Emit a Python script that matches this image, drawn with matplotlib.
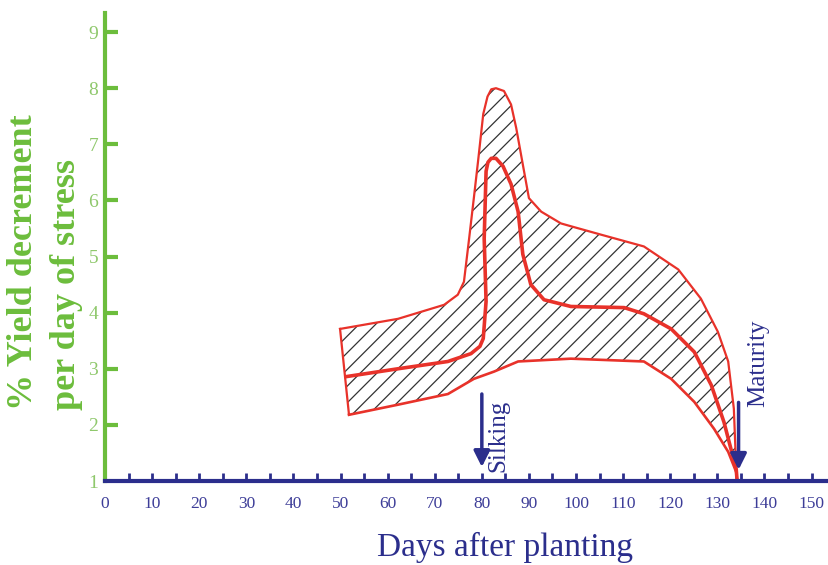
import matplotlib
matplotlib.use("Agg")
import matplotlib.pyplot as plt
import numpy as np

plt.rcParams['font.family'] = ['Liberation Serif', 'DejaVu Serif']
plt.rcParams['hatch.linewidth'] = 0.9
plt.rcParams['hatch.color'] = '#333333'

# upper edge of the hatched band (days, % yield decrement)
upper_days = [49.9, 62.2, 72.0, 74.9, 76.2, 77.3, 78.3, 79.2, 80.3, 81.2, 82.0, 83.0, 84.7,
              86.2, 87.3, 88.7, 90.0, 92.6, 96.8, 98.9, 105.3, 114.4, 121.7, 126.5,
              130.1, 132.3, 133.5, 134.0, 134.2]
upper_vals = [3.71, 3.89, 4.14, 4.32, 4.55, 5.32, 6.04, 6.70, 7.54, 7.85, 7.98, 8.0, 7.95,
              7.71, 7.29, 6.64, 6.04, 5.80, 5.59, 5.54, 5.39, 5.18, 4.77, 4.25,
              3.66, 3.13, 2.29, 1.21, 1.0]

# lower edge of the band
lower_days = [51.8, 62.2, 72.8, 78.3, 82.6, 87.7, 98.9, 114.4, 120.2, 125.1, 129.3,
              132.3, 134.0, 134.2]
lower_vals = [2.18, 2.36, 2.55, 2.82, 2.95, 3.13, 3.18, 3.13, 2.82, 2.41, 1.93,
              1.52, 1.16, 1.0]

# middle (thick) curve
mid_days = [51.2, 62.2, 72.8, 77.7, 79.6, 80.3, 80.9, 80.5, 80.9, 81.3, 82.0, 83.0, 84.5, 86.2,
            87.7, 88.7, 90.4, 93.2, 98.9, 110.2, 114.4, 120.2, 125.1, 128.7, 131.4,
            134.0, 134.2]
mid_vals = [2.86, 3.0, 3.13, 3.27, 3.40, 3.54, 4.2, 5.32, 6.52, 6.68, 6.75, 6.75, 6.61, 6.29,
            5.80, 5.04, 4.5, 4.23, 4.11, 4.09, 3.98, 3.71, 3.30, 2.71, 2.05,
            1.21, 1.0]

xticks_major = list(range(0, 151, 10))
xticks_minor = list(range(5, 150, 10))
yticks = list(range(1, 10))

red = '#e8322a'
navy = '#2b2e8c'
green = '#6cbd3c'
light_green = '#8fc86c'

fig = plt.figure(figsize=(8.29, 5.65), dpi=100)
ax = fig.add_axes([105 / 829, 84 / 565, 724 / 829, 468 / 565])
ax.set_xlim(0, 153.7)
ax.set_ylim(1, 9.34)

# hatched band
poly_x = upper_days + lower_days[::-1]
poly_y = upper_vals + lower_vals[::-1]
ax.fill(poly_x, poly_y, facecolor='white', edgecolor='#333333', hatch='//', linewidth=0)
ax.plot(upper_days, upper_vals, color=red, lw=1.6, solid_joinstyle='round')
ax.plot(lower_days, lower_vals, color=red, lw=1.9, solid_joinstyle='round')
ax.plot([upper_days[0], lower_days[0]], [upper_vals[0], lower_vals[0]], color=red, lw=1.6)
ax.plot(mid_days, mid_vals, color=red, lw=2.6, solid_joinstyle='round')

# arrows
ax.annotate('', xy=(80, 1.2), xytext=(80, 2.6),
            arrowprops=dict(arrowstyle='-|>', lw=2.5, color=navy, mutation_scale=24))
ax.annotate('', xy=(134.5, 1.15), xytext=(134.5, 2.45),
            arrowprops=dict(arrowstyle='-|>', lw=2.5, color=navy, mutation_scale=24))
ax.text(83.6, 1.8, 'Silking', rotation=90, ha='center', va='center',
        color=navy, fontsize=18)
ax.text(138.6, 3.1, 'Maturity', rotation=90, ha='center', va='center',
        color=navy, fontsize=18)

# axes styling
for s in ['top', 'right']:
    ax.spines[s].set_visible(False)
ax.spines['left'].set_color(green)
ax.spines['left'].set_linewidth(3)
ax.spines['bottom'].set_color(navy)
ax.spines['bottom'].set_linewidth(3)

ax.set_xticks(xticks_major)
ax.set_xticks(xticks_minor, minor=True)
ax.set_xticklabels([str(t) for t in xticks_major])
ax.tick_params(axis='x', which='both', direction='in', length=6, width=2,
               color=navy, labelcolor='#3d3d98', labelsize=12.5, pad=11)
ax.set_yticks(yticks)
ax.set_yticklabels([str(t) for t in yticks])
ax.tick_params(axis='y', direction='in', length=9, width=3, color=green,
               labelcolor=light_green, labelsize=14, pad=5)
ax.xaxis.get_major_ticks()[0].tick1line.set_visible(False)
ax.xaxis.get_minor_ticks()[0].tick1line.set_color(green)
ax.yaxis.get_major_ticks()[0].tick1line.set_visible(False)

# labels
fig.text(24 / 829, 1 - 410 / 565, '% Yield decrement', rotation=90, ha='center',
         va='bottom', color=green, fontsize=26, fontweight='bold')
fig.text(67 / 829, 1 - 410 / 565, 'per day of stress', rotation=90, ha='center',
         va='bottom', color=green, fontsize=26, fontweight='bold')
fig.text(505 / 829, 1 - 547 / 565, 'Days after planting', ha='center', va='center',
         color=navy, fontsize=24)

fig.savefig('out.png', dpi=100)
